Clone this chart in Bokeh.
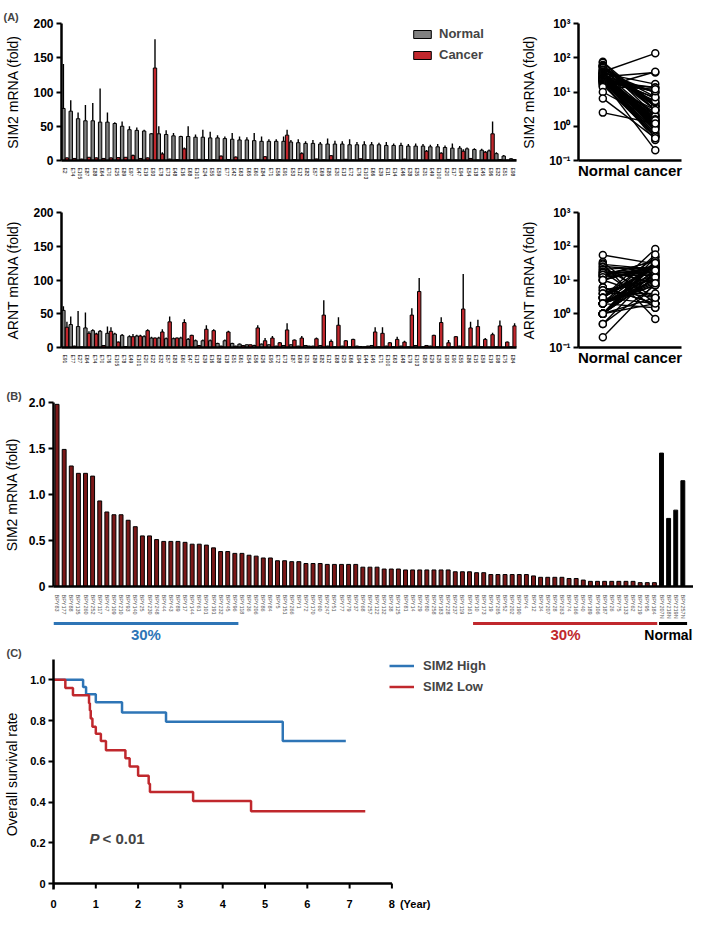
import numpy as np
from bokeh.plotting import figure
from bokeh.layouts import row, column
from bokeh.models import ColumnDataSource, FixedTicker, Legend, LegendItem, Title, Label
from bokeh.core.properties import value
from bokeh.embed import file_html
from bokeh.resources import INLINE

FONT = "Liberation Sans"
GREY = "#808080"
RED = "#c1272d"
MAROON = "#7a1818"
BLUE = "#2e75b6"
KM_RED = "#c0282d"

# ---------------- data: panel A (SIM2) ----------------
sim2_labels = ["E2", "E74", "E105", "E87", "E88", "E64", "E70", "E25", "E89", "E97",
               "E47", "E19", "E93", "E78", "E73", "E48", "E16", "E68", "E101", "E24",
               "E55", "E59", "E77", "E42", "E63", "E65", "E60", "E84", "E71", "E56",
               "E91", "E53", "E12", "E82", "E57", "E69", "E85", "E30", "E13", "E72",
               "E76", "E103", "E66", "E39", "E11", "E14", "E46", "E38", "E35", "E31",
               "E49", "E100", "E20", "E17", "E94", "E54", "E18", "E45", "E96", "E32",
               "E51", "E98"]
sim2_normal = [76, 72, 61, 58, 58, 56, 56, 54, 50, 45,
               44, 43, 39, 39, 38, 36, 35, 35, 34, 34,
               33, 33, 32, 31, 30, 30, 29, 28, 28, 28,
               28, 27, 26, 25, 25, 24, 24, 24, 24, 23,
               23, 23, 23, 23, 22, 22, 22, 21, 21, 21,
               20, 20, 19, 18, 18, 17, 16, 15, 14, 10,
               6.5, 2.5]
sim2_normal_err = [65, 16, 9, 23, 26, 49, 14, 2, 7, 5,
                   4, 2, 1, 11, 6, 4, 1, 15, 4, 11,
                   9, 4, 3, 9, 5, 4, 11, 7, 3, 3,
                   7, 3, 5, 3, 5, 3, 8, 5, 4, 8,
                   4, 5, 4, 3, 5, 3, 4, 3, 4, 3,
                   3, 4, 3, 7, 3, 2, 2, 2, 2, 2,
                   1.5, 1]
sim2_cancer = [3.8, 3.0, 2.0, 4.7, 3.8, 3.0, 3.8, 4.2, 4.7, 7.2,
               3.0, 3.8, 135, 9.5, 2.0, 1.3, 17, 1.3, 1.7, 1.2,
               1.1, 6.4, 1.5, 5.0, 1.0, 0.8, 1.6, 5.5, 0.9, 1.4,
               37, 1.2, 10, 0.6, 2.2, 1.0, 7.0, 0.5, 1.8, 0.7,
               2.5, 1.1, 0.4, 0.9, 1.3, 0.5, 2.0, 0.6, 0.2, 13.5,
               0.8, 10.6, 1.6, 0.5, 13.5, 3.0, 0.5, 12, 39, 1.5,
               0.45, 1.2]
sim2_cancer_err = [0.5, 0.5, 0.5, 0.5, 0.5, 0.5, 0.5, 0.5, 0.5, 1.5,
                   0.5, 0.5, 42, 2.5, 0.5, 0.5, 2, 0.5, 0.5, 0.5,
                   0.5, 1, 0.5, 1, 0.5, 0.5, 0.5, 1, 0.5, 0.5,
                   8, 0.5, 2, 0.5, 0.5, 0.5, 1, 0.5, 0.5, 0.5,
                   0.5, 0.5, 0.5, 0.5, 0.5, 0.5, 0.5, 0.5, 0.5, 2,
                   0.5, 1.5, 0.5, 0.5, 3, 0.5, 0.5, 2, 18, 0.5,
                   0.5, 0.5]

# ---------------- data: panel A (ARNT) ----------------
arnt_labels = ["E91", "E77", "E27", "E64", "E74", "E70", "E76", "E105", "E78", "E49",
               "E101", "E20", "E22", "E32", "E57", "E83", "E60", "E47", "E13", "E39",
               "E16", "E88", "E18", "E51", "E61", "E54", "E56", "E26", "E95", "E72",
               "E73", "E87", "E69", "E31", "E89", "E82", "E12", "E68", "E25", "E66",
               "E94", "E44", "E45", "E71", "E100", "E63", "E48", "E79", "E103", "E85",
               "E29", "E35", "E93", "E90", "E55", "E86", "E15", "E59", "E19", "E98",
               "E75", "E84"]
arnt_normal = [55, 34, 31, 29, 25, 24, 21, 20, 18, 16,
               17, 16, 14, 14, 13, 13, 14, 12, 10, 10,
               10, 6, 10, 6, 5, 4, 3, 5, 4, 2,
               3, 4, 2, 3, 2, 3, 2, 1, 2, 1,
               2, 1, 3, 1, 2, 1, 2, 1, 3, 1,
               2, 1, 0.5, 1, 2, 1, 2, 1, 0.5, 1,
               0.2, 1]
arnt_normal_err = [6, 12, 23, 23, 2, 2, 10, 2, 2, 2,
                   2, 2, 2, 2, 2, 2, 2, 2, 2, 2,
                   2, 1, 2, 1, 1, 1, 1, 1, 1, 0.5,
                   0.5, 1, 0.5, 0.5, 0.5, 0.5, 0.5, 0.3, 0.5, 0.3,
                   0.5, 0.3, 0.5, 0.3, 0.5, 0.3, 0.5, 0.3, 0.5, 0.3,
                   0.5, 0.3, 0.2, 0.3, 0.5, 0.3, 0.5, 0.3, 0.2, 0.3,
                   0.1, 0.3]
arnt_cancer = [30, 2, 0.7, 21, 20, 3, 24, 8, 1.5, 16,
               17, 25, 14, 23, 38, 14, 37, 18, 3, 27,
               25, 2, 23, 2, 3, 4, 29, 10, 14, 7,
               26, 11, 14, 2, 13, 48, 9, 33, 10, 12,
               1.5, 2, 23, 21, 7, 12, 8, 48, 83, 3,
               18, 37, 7, 16, 57, 29, 31, 12, 19, 32,
               8, 32]
arnt_cancer_err = [8, 0.5, 0.3, 3, 2, 0.5, 6, 1, 0.5, 4,
                   2, 2, 1, 4, 8, 1, 5, 1, 0.5, 6,
                   2, 0.5, 2, 0.5, 0.5, 0.5, 4, 4, 3, 1,
                   10, 1, 3, 0.5, 2, 22, 3, 12, 1, 1,
                   0.5, 0.5, 7, 9, 1, 4, 2, 10, 20, 0.5,
                   1, 8, 4, 1, 52, 9, 10, 2, 3, 8,
                   1, 4]

# ---------------- data: panel B ----------------
bpy_labels = ["BPY83", "BPY177", "BPY88", "BPY135", "BPY260", "BPY252", "BPY117", "BPY47", "BPY109", "BPY210",
              "BPY93", "BPY140", "BPY25", "BPY230", "BPY248", "BPY44", "BPY43", "BPY89", "BPY17", "BPY144",
              "BPY61", "BPY101", "BPY191", "BPY232", "BPY45", "BPY96", "BPY118", "BPY36", "BPY206", "BPY86",
              "BPY84", "BPY5", "BPY151", "BPY266", "BPY1", "BPY72", "BPY170", "BPY60", "BPY247", "BPY51",
              "BPY77", "BPY79", "BPY37", "BPY68", "BPY257", "BPY122", "BPY132", "BPY38", "BPY125", "BPY81",
              "BPY14", "BPY29", "BPY80", "BPY258", "BPY183", "BPY228", "BPY237", "BPY119", "BPY161", "BPY10",
              "BPY173", "BPY19", "BPY265", "BPY52", "BPY202", "BPY190", "BPY4", "BPY12", "BPY34", "BPY207",
              "BPY28", "BPY263", "BPY74", "BPY166", "BPY40", "BPY189", "BPY106", "BPY187", "BPY26", "BPY75",
              "BPY133", "BPY62", "BPY219", "BPY95", "BPY184"]
bpy_values = [1.98, 1.49, 1.31, 1.23, 1.23, 1.20, 0.93, 0.81, 0.78, 0.78,
              0.72, 0.65, 0.55, 0.55, 0.51, 0.49, 0.49, 0.49, 0.48, 0.46,
              0.46, 0.45, 0.42, 0.38, 0.38, 0.36, 0.36, 0.34, 0.33, 0.31,
              0.31, 0.28, 0.28, 0.27, 0.27, 0.25, 0.25, 0.25, 0.24, 0.24,
              0.24, 0.24, 0.24, 0.21, 0.21, 0.21, 0.19, 0.19, 0.19, 0.18,
              0.18, 0.18, 0.18, 0.18, 0.18, 0.18, 0.16, 0.16, 0.16, 0.15,
              0.15, 0.13, 0.13, 0.13, 0.13, 0.13, 0.13, 0.115, 0.10, 0.10,
              0.10, 0.10, 0.087, 0.087, 0.07, 0.056, 0.056, 0.056, 0.056, 0.056,
              0.056, 0.056, 0.042, 0.042, 0.042]
bpy_normal_labels = ["BPY207N", "BPY218N", "BPY219N", "BPY257N"]
bpy_normal_values = [1.45, 0.74, 0.83, 1.15]
bpy_ticks = [0, 0.5, 1.0, 1.5, 2.0]
bpy_tick_labels = ["0", "0.5", "1.0", "1.5", "2.0"]
group_count = 26          # 30% of the 85 tumours
group_label = "30%"
normal_group_label = "Normal"

# ---------------- data: panel C ----------------
km_high_t = [0, 0.70, 0.77, 1.0, 1.62, 2.66, 5.42, 6.91]
km_high_s = [1.0, 0.965, 0.93, 0.89, 0.84, 0.795, 0.70, 0.70]
km_low_t = [0, 0.28, 0.46, 0.84, 0.86, 0.88, 0.92, 1.0, 1.12, 1.24, 1.70, 1.80, 2.0, 2.25, 2.28, 3.30, 4.67, 7.37]
km_low_s = [1.0, 0.96, 0.925, 0.885, 0.85, 0.81, 0.77, 0.735, 0.70, 0.655, 0.615, 0.575, 0.53, 0.49, 0.45, 0.405, 0.355, 0.355]
year_ticks = [0, 1, 2, 3, 4, 5, 6, 7, 8]
survival_ticks = [0, 0.2, 0.4, 0.6, 0.8, 1.0]
survival_tick_labels = ["0", "0.2", "0.4", "0.6", "0.8", "1.0"]


def style_axes(p, tick_size="12px"):
    for ax in p.axis:
        ax.axis_line_width = 2.5
        ax.axis_line_color = "black"
        ax.major_tick_line_width = 2
        ax.major_tick_line_color = "black"
        ax.major_tick_out = 5
        ax.major_tick_in = 0
        ax.minor_tick_line_color = None
        ax.major_label_text_font = FONT
        ax.major_label_text_font_style = "bold"
        ax.major_label_text_font_size = tick_size
        ax.major_label_text_color = "black"
        ax.major_label_standoff = 3
        ax.axis_label_text_font = FONT
        ax.axis_label_text_font_style = "normal"
        ax.axis_label_text_font_size = "14px"
        ax.axis_label_text_color = "black"
        ax.axis_label_standoff = 9


def base_fig(w, h, bl, br, bt, bb, tick_size="12px", **kw):
    p = figure(width=w, height=h, min_border_left=bl, min_border_right=br,
               min_border_top=bt, min_border_bottom=bb, output_backend="svg",
               toolbar_location=None, title=None, **kw)
    p.grid.visible = False
    p.outline_line_color = None
    p.background_fill_color = "white"
    p.border_fill_color = "white"
    style_axes(p, tick_size)
    return p


def letter(p, text, offset, standoff=1):
    p.add_layout(Title(text=text, align="left", offset=offset, standoff=standoff, text_font=FONT,
                       text_font_style="bold", text_font_size="11px"), "above")


def bar_panel(labels, normal, nerr, cancer, cerr, ylabel, w, h, bl, br, bt, bb):
    n = len(labels)
    idx = np.arange(n)
    normal = np.asarray(normal, float)
    cancer = np.asarray(cancer, float)
    src = ColumnDataSource(dict(xn=idx - 0.24, xc=idx + 0.24, normal=normal, cancer=cancer,
                                ntop=normal + np.asarray(nerr, float),
                                ctop=cancer + np.asarray(cerr, float)))
    p = base_fig(w, h, bl, br, bt, bb, x_range=(-0.5, n - 0.5), y_range=(0, 200))
    rn = p.vbar(x="xn", top="normal", width=0.46, source=src, fill_color=GREY,
                line_color="black", line_width=1)
    rc = p.vbar(x="xc", top="cancer", width=0.46, source=src, fill_color=RED,
                line_color="black", line_width=1)
    p.segment(x0="xn", y0="normal", x1="xn", y1="ntop", source=src, line_color="black", line_width=1.4)
    p.segment(x0="xc", y0="cancer", x1="xc", y1="ctop", source=src, line_color="black", line_width=1.4)
    p.yaxis.ticker = FixedTicker(ticks=[0, 50, 100, 150, 200], minor_ticks=[])
    p.yaxis.axis_label = ylabel
    p.xaxis.ticker = FixedTicker(ticks=[int(i) for i in idx], minor_ticks=[])
    p.xaxis.major_label_overrides = {int(i): lab for i, lab in zip(idx, labels)}
    p.xaxis.major_label_orientation = "vertical"
    p.xaxis.major_label_text_font_size = "5px"
    p.xaxis.major_label_text_font_style = "normal"
    p.xaxis.major_tick_line_color = None
    p.xaxis.major_label_standoff = 2
    return p, rn, rc


def log_panel(normal, cancer, ylabel, w, h, bl, br, bt, bb):
    n = len(normal)
    src = ColumnDataSource(dict(x0=np.zeros(n), x1=np.ones(n), n=normal, c=cancer))
    p = base_fig(w, h, bl, br, bt, bb, x_range=(-0.464, 1.5), y_range=(0.1, 1000), y_axis_type="log")
    p.segment(x0="x0", y0="n", x1="x1", y1="c", source=src, line_color="black", line_width=1.4)
    p.scatter(x="x0", y="n", source=src, size=7, fill_color="white", line_color="black", line_width=1.5)
    p.scatter(x="x1", y="c", source=src, size=7, fill_color="white", line_color="black", line_width=1.5)
    p.yaxis.ticker = FixedTicker(ticks=[0.1, 1, 10, 100, 1000], minor_ticks=[])
    p.yaxis.major_label_overrides = {0.1: "10⁻¹", 1: "10⁰", 10: "10¹", 100: "10²", 1000: "10³"}
    p.yaxis.axis_label = ylabel
    p.xaxis.ticker = FixedTicker(ticks=[], minor_ticks=[])
    p.xaxis.axis_label = "Normal cancer"
    p.xaxis.axis_label_text_font_style = "bold"
    p.xaxis.axis_label_text_font_size = "15px"
    p.xaxis.axis_label_standoff = 1
    return p


# ---- Row A (SIM2) ----
pA1, rn, rc = bar_panel(sim2_labels, sim2_normal, sim2_normal_err, sim2_cancer, sim2_cancer_err,
                        "SIM2 mRNA (fold)", 518, 182, 61, 2, 14, 19)
legA = Legend(items=[LegendItem(label="Normal", renderers=[rn]), LegendItem(label="Cancer", renderers=[rc])],
              location=(350, 98), glyph_width=22, glyph_height=10, label_height=14,
              label_text_font=FONT, label_text_font_style="bold", label_text_font_size="13px",
              label_standoff=6, spacing=6, padding=0, margin=0, border_line_color=None,
              background_fill_alpha=0)
pA1.add_layout(legA)
letter(pA1, "(A)", -58)
pA2 = log_panel(sim2_normal, sim2_cancer, "SIM2 mRNA (fold)", 175, 182, 56, 12, 23, 18)

# ---- Row A (ARNT) ----
pA3, _, _ = bar_panel(arnt_labels, arnt_normal, arnt_normal_err, arnt_cancer, arnt_cancer_err,
                      "ARNT mRNA (fold)", 518, 190, 61, 2, 12, 25)
pA4 = log_panel(arnt_normal, arnt_cancer, "ARNT mRNA (fold)", 175, 190, 56, 12, 30, 18)

# ---- Panel B ----
nb = len(bpy_values)
nn = len(bpy_normal_values)
all_b_labels = bpy_labels + bpy_normal_labels
B_W, B_L, B_R = 693, 50, 0
pB = base_fig(B_W, 249, B_L, B_R, 30, 30, x_range=(-0.5, nb + nn + 0.5), y_range=(0, 2.0))
pB.vbar(x=np.arange(nb), top=bpy_values, width=0.55, fill_color=MAROON, line_color="black", line_width=1)
pB.vbar(x=np.arange(nb, nb + nn), top=bpy_normal_values, width=0.55, fill_color="black",
        line_color="black", line_width=1)
pB.yaxis.ticker = FixedTicker(ticks=bpy_ticks, minor_ticks=[])
pB.yaxis.major_label_overrides = dict(zip(bpy_ticks, bpy_tick_labels))
pB.yaxis.axis_label = "SIM2 mRNA (fold)"
pB.yaxis.axis_label_standoff = 6
pB.xaxis.ticker = FixedTicker(ticks=list(range(nb + nn)), minor_ticks=[])
pB.xaxis.major_label_overrides = {i: lab for i, lab in enumerate(all_b_labels)}
pB.xaxis.major_label_orientation = "vertical"
pB.xaxis.major_label_text_font_size = "5.5px"
pB.xaxis.major_label_text_font_style = "normal"
pB.xaxis.major_label_text_color = "#555555"
pB.xaxis.major_tick_line_color = None
pB.xaxis.major_label_standoff = 3
letter(pB, "(B)", -47, standoff=2)

# strip under panel B: group brackets and their labels
pB2 = figure(width=B_W, height=23, x_range=pB.x_range, y_range=(0, 23), min_border_left=B_L,
             min_border_right=B_R, min_border_top=0, min_border_bottom=0, output_backend="svg",
             toolbar_location=None, title=None, x_axis_location=None, y_axis_location=None)
pB2.grid.visible = False
pB2.outline_line_color = None
brk = ColumnDataSource(dict(x0=[-0.5, nb - group_count - 0.5, nb - 0.35],
                            x1=[group_count - 0.5, nb - 0.6, nb + nn - 0.4],
                            y=[21, 21, 21], color=[BLUE, KM_RED, "black"]))
pB2.segment(x0="x0", y0="y", x1="x1", y1="y", color="color", line_width=3, source=brk)
pB2.text(x=[(group_count - 1) / 2, nb - (group_count + 1) / 2], y=[10, 10],
         text=[group_label, group_label], text_color=[BLUE, KM_RED], text_font=value(FONT),
         text_font_style="bold", text_font_size="15px", text_align="center", text_baseline="middle")
pB2.text(x=[nb + nn + 0.5], y=[10], text=[normal_group_label], text_color="black", text_font=value(FONT),
         text_font_style="bold", text_font_size="14px", text_align="right", text_baseline="middle",
         x_offset=-1)

# ---- Panel C ----
C_W, C_H, C_L, C_R, C_T, C_B = 693, 268, 50, 0, 14, 20
c_frame_h = C_H - C_T - C_B
c_frame_w = C_W - C_L - C_R
px_per_year = 42.5
x_end = c_frame_w / px_per_year
d = 6 * 1.1 / (c_frame_h - 6)
pC = base_fig(C_W, C_H, C_L, C_R, C_T, C_B, tick_size="11px", x_range=(0, x_end), y_range=(-d, 1.1))
rh = pC.step(x=km_high_t, y=km_high_s, mode="after", line_color=BLUE, line_width=2.5)
rl = pC.step(x=km_low_t, y=km_low_s, mode="after", line_color=KM_RED, line_width=2.5)
# x axis drawn at survival 0 so the label "(Year)" can sit in line with the tick labels
pC.segment(x0=[year_ticks[0]], y0=[0], x1=[year_ticks[-1]], y1=[0], line_color="black", line_width=2.5)
pC.segment(x0=year_ticks, y0=[0] * len(year_ticks), x1=year_ticks, y1=[-d * 5 / 6] * len(year_ticks),
           line_color="black", line_width=2)
pC.xaxis.axis_line_color = None
pC.xaxis.major_tick_line_color = None
year_label_pos = year_ticks[-1] + 0.55
pC.xaxis.ticker = FixedTicker(ticks=year_ticks + [year_label_pos], minor_ticks=[])
pC.xaxis.major_label_overrides = {year_label_pos: "(Year)"}
pC.xaxis.major_label_standoff = 3
pC.yaxis.ticker = FixedTicker(ticks=survival_ticks, minor_ticks=[])
pC.yaxis.major_label_overrides = dict(zip(survival_ticks, survival_tick_labels))
pC.yaxis.axis_label = "Overall survival rate"
pC.yaxis.axis_label_standoff = 7
legC = Legend(items=[LegendItem(label="SIM2 High", renderers=[rh]), LegendItem(label="SIM2 Low", renderers=[rl])],
              location=(336, 195), glyph_width=25, glyph_height=13, label_height=13,
              label_text_font=FONT, label_text_font_style="bold", label_text_font_size="13px",
              label_standoff=9, spacing=6, padding=0, margin=0, border_line_color=None,
              background_fill_alpha=0)
pC.add_layout(legC)
pC.add_layout(Label(x=0.85, y=0.22, text="P", text_font=FONT, text_font_style="bold italic",
                    text_font_size="15px", text_align="left", text_baseline="middle"))
pC.add_layout(Label(x=0.85, y=0.22, x_offset=13, text="< 0.01", text_font=FONT, text_font_style="bold",
                    text_font_size="15px", text_align="left", text_baseline="middle"))
letter(pC, "(C)", -47, standoff=1)

layout = column(row(pA1, pA2), row(pA3, pA4), pB, pB2, pC)
open("out.html", "w").write(file_html(layout, INLINE, title="SIM2 figure"))
